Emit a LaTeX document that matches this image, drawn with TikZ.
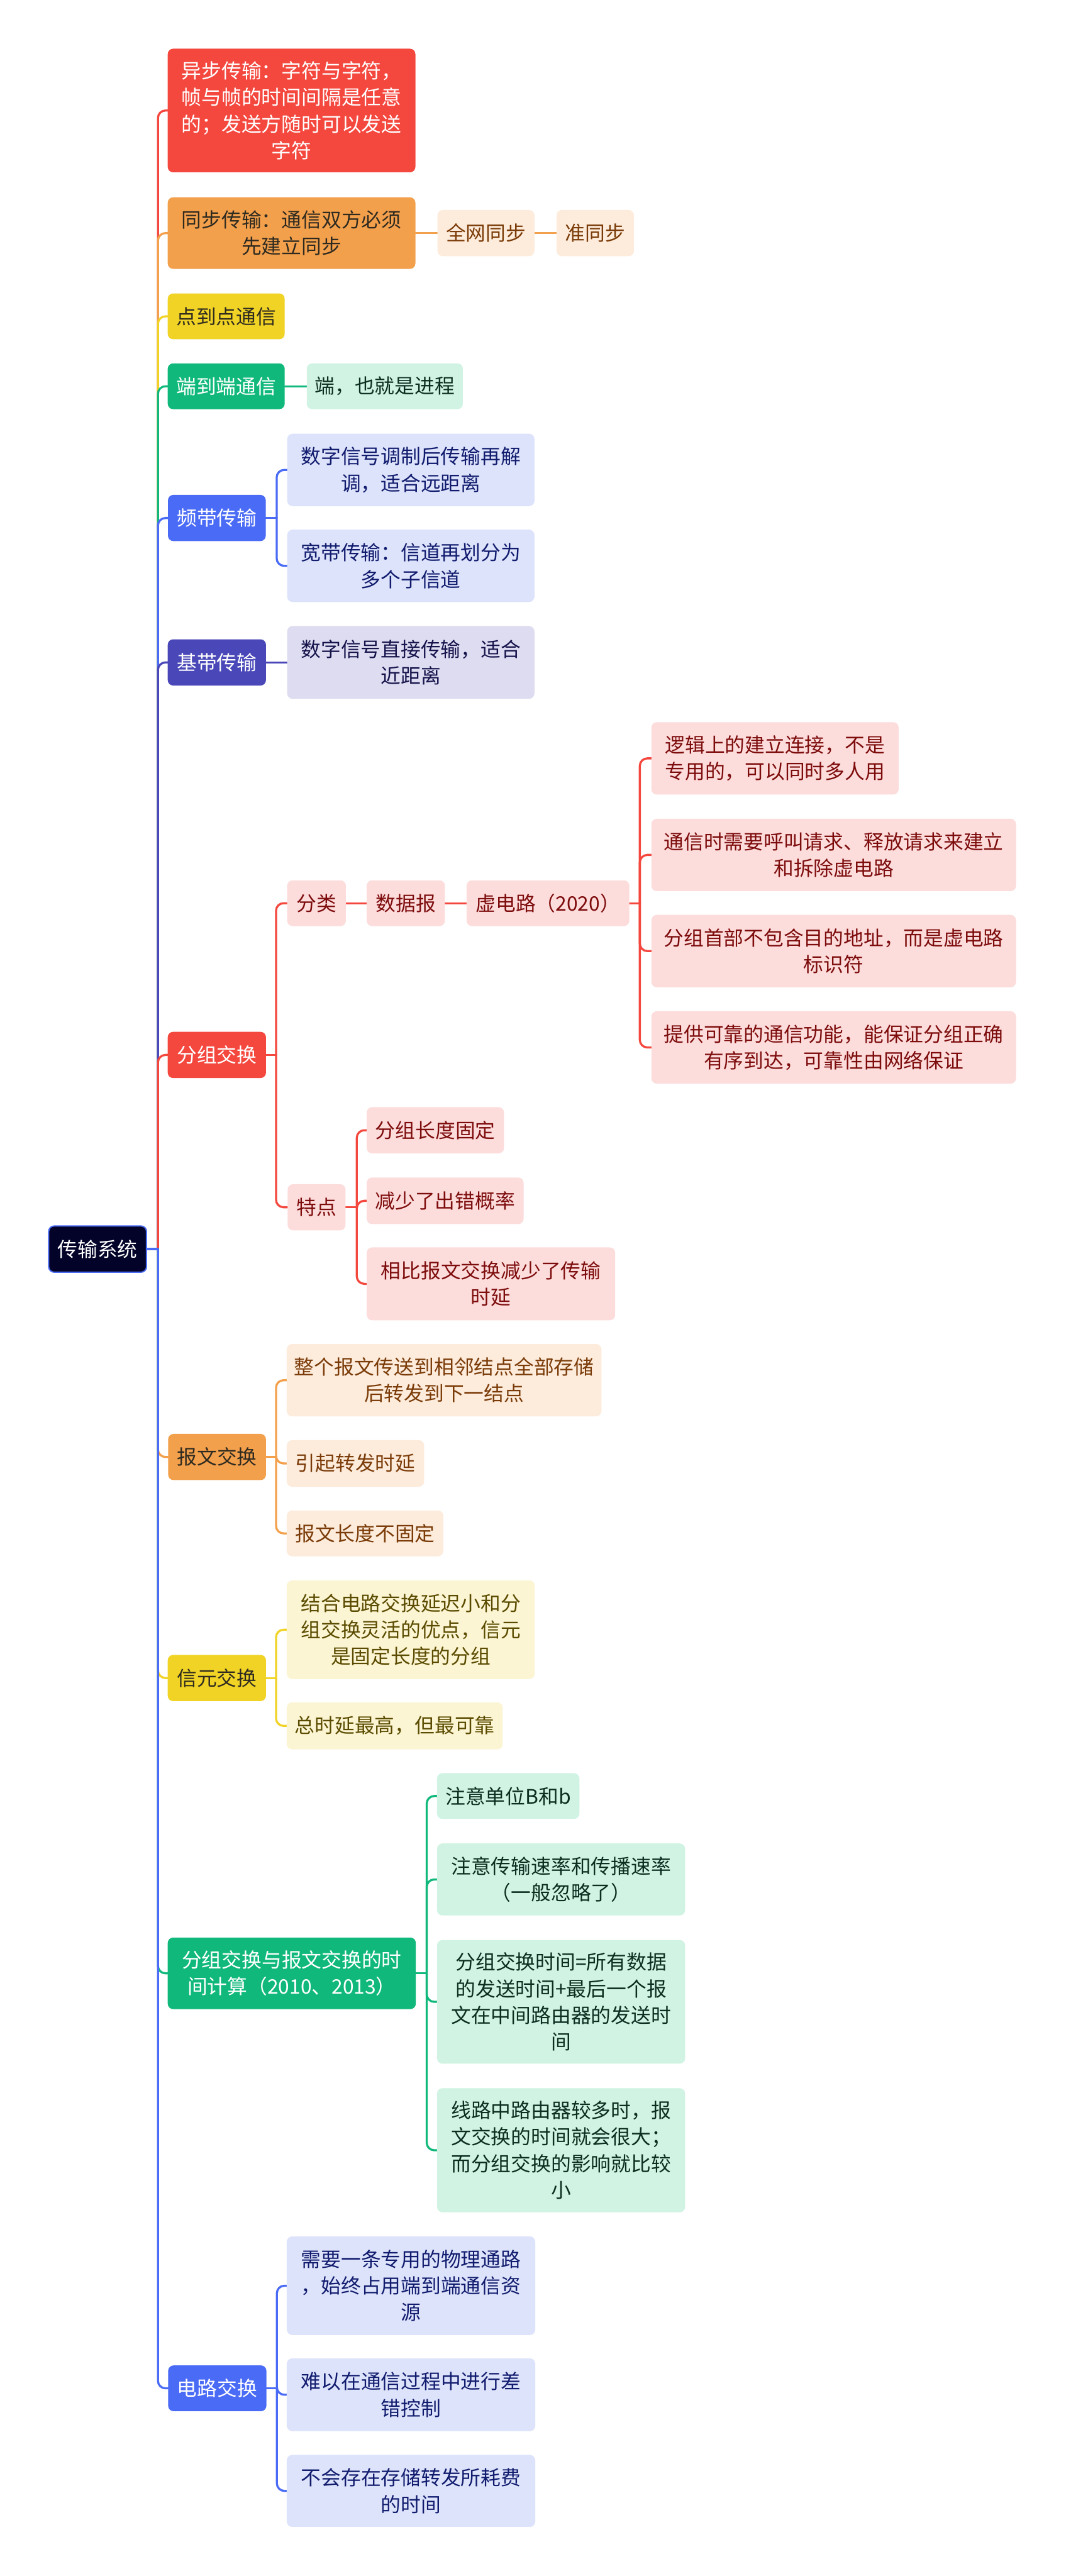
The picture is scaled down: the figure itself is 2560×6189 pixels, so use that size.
\documentclass[tikz,border=0pt]{standalone}
\usepackage{fontspec}
\setmainfont{Noto Sans CJK SC}
\usetikzlibrary{backgrounds}
\definecolor{cRed}{HTML}{F4473E}
\definecolor{cOrange}{HTML}{F3A04C}
\definecolor{cYellow}{HTML}{F0D325}
\definecolor{cGreen}{HTML}{10B97B}
\definecolor{cBlue}{HTML}{4A6BF5}
\definecolor{cPurple}{HTML}{4A48B8}
\definecolor{cRoot}{HTML}{03032A}
\definecolor{lRed}{HTML}{FDDCDC}
\definecolor{lOrange}{HTML}{FDEBDB}
\definecolor{lYellow}{HTML}{FCF5D3}
\definecolor{lGreen}{HTML}{D0F3E3}
\definecolor{lBlue}{HTML}{DDE3FB}
\definecolor{lPurple}{HTML}{DDDCF1}
\definecolor{tRed}{HTML}{7D0C0C}
\definecolor{tOrange}{HTML}{7A3B08}
\definecolor{tYellow}{HTML}{5A4B00}
\definecolor{tGreen}{HTML}{0C2E20}
\definecolor{tBlue}{HTML}{111C6E}
\definecolor{tPurple}{HTML}{15134A}
\definecolor{tDark}{HTML}{2E2A20}
\tikzset{
  nd/.style={rounded corners=13pt, inner sep=0pt, align=center, font=\fontsize{48}{64}\selectfont},
  conn/.style={line width=5pt, line cap=round},
}
\newcommand\myelbow[4]{%
  \draw[conn,#1] (#2.east) -- ++(#4,0);
  \draw[conn,#1,rounded corners=18pt] (#2.east) ++(#4,0) |- (#3.west);}
\newcommand\mystraight[3]{\draw[conn,#1] (#2.east) -- (#3.west);}
\begin{document}
\begin{tikzpicture}[x=1pt,y=-1pt]
\useasboundingbox (0,0) rectangle (2560,6189);
% root
\node[nd, fill=cRoot, draw=cBlue, line width=3pt, text=white, minimum width=235pt, minimum height=111pt] (R) at (234.5,3001) {传输系统};
% level 1
\node[nd, fill=cRed, text=white, minimum width=595pt, minimum height=297pt] (A1) at (700.5,265.5) {异步传输：字符与字符，\\帧与帧的时间间隔是任意\\的；发送方随时可以发送\\字符};
\node[nd, fill=cOrange, text=tDark, minimum width=595pt, minimum height=172pt] (A2) at (700.5,560) {同步传输：通信双方必须\\先建立同步};
\node[nd, fill=lOrange, text=tOrange, minimum width=233pt, minimum height=111pt] (A2a) at (1167.5,560) {全网同步};
\node[nd, fill=lOrange, text=tOrange, minimum width=186pt, minimum height=111pt] (A2b) at (1430,560) {准同步};
\node[nd, fill=cYellow, text=tDark, minimum width=281pt, minimum height=110pt] (A3) at (543.5,760) {点到点通信};
\node[nd, fill=cGreen, text=white, minimum width=281pt, minimum height=110pt] (A4) at (543.5,928) {端到端通信};
\node[nd, fill=lGreen, text=tGreen, minimum width=375pt, minimum height=110pt] (A4a) at (924.5,928) {端，也就是进程};
\node[nd, fill=cBlue, text=white, minimum width=235pt, minimum height=111pt] (A5) at (521,1244.5) {频带传输};
\node[nd, fill=lBlue, text=tBlue, minimum width=594pt, minimum height=174pt] (B1) at (987,1129) {数字信号调制后传输再解\\调，适合远距离};
\node[nd, fill=lBlue, text=tBlue, minimum width=594pt, minimum height=174pt] (B2) at (987,1359.5) {宽带传输：信道再划分为\\多个子信道};
\node[nd, fill=cPurple, text=white, minimum width=236pt, minimum height=111pt] (A6) at (521,1591.5) {基带传输};
\node[nd, fill=lPurple, text=tPurple, minimum width=594pt, minimum height=175pt] (C1) at (987,1591.5) {数字信号直接传输，适合\\近距离};
% packet switching
\node[nd, fill=cRed, text=white, minimum width=236pt, minimum height=111pt] (A7) at (521,2534.5) {分组交换};
\node[nd, fill=lRed, text=tRed, minimum width=141pt, minimum height=110pt] (D1) at (760.5,2170) {分类};
\node[nd, fill=lRed, text=tRed, minimum width=188pt, minimum height=110pt] (D2) at (975,2170) {数据报};
\node[nd, fill=lRed, text=tRed, minimum width=391pt, minimum height=110pt] (D3) at (1316.5,2170) {虚电路（2020）};
\node[nd, fill=lRed, text=tRed, minimum width=594pt, minimum height=174pt] (E1) at (1862,1822) {逻辑上的建立连接，不是\\专用的，可以同时多人用};
\node[nd, fill=lRed, text=tRed, minimum width=876pt, minimum height=174pt] (E2) at (2003,2054) {通信时需要呼叫请求、释放请求来建立\\和拆除虚电路};
\node[nd, fill=lRed, text=tRed, minimum width=876pt, minimum height=174pt] (E3) at (2003,2285) {分组首部不包含目的地址，而是虚电路\\标识符};
\node[nd, fill=lRed, text=tRed, minimum width=876pt, minimum height=174pt] (E4) at (2003,2516.5) {提供可靠的通信功能，能保证分组正确\\有序到达，可靠性由网络保证};
\node[nd, fill=lRed, text=tRed, minimum width=139pt, minimum height=111pt] (D4) at (760.5,2900.5) {特点};
\node[nd, fill=lRed, text=tRed, minimum width=330pt, minimum height=111pt] (F1) at (1046,2715.5) {分组长度固定};
\node[nd, fill=lRed, text=tRed, minimum width=377pt, minimum height=112pt] (F2) at (1069.5,2885) {减少了出错概率};
\node[nd, fill=lRed, text=tRed, minimum width=597pt, minimum height=175pt] (F3) at (1179.5,3084.5) {相比报文交换减少了传输\\时延};
% message switching
\node[nd, fill=cOrange, text=tDark, minimum width=235pt, minimum height=111pt] (A8) at (521.5,3500.5) {报文交换};
\node[nd, fill=lOrange, text=tOrange, minimum width=756pt, minimum height=174pt] (G1) at (1067,3316) {整个报文传送到相邻结点全部存储\\后转发到下一结点};
\node[nd, fill=lOrange, text=tOrange, minimum width=330pt, minimum height=112pt] (G2) at (854,3516) {引起转发时延};
\node[nd, fill=lOrange, text=tOrange, minimum width=376pt, minimum height=110pt] (G3) at (877,3684) {报文长度不固定};
% cell switching
\node[nd, fill=cYellow, text=tDark, minimum width=236pt, minimum height=111pt] (A9) at (521,4031.5) {信元交换};
\node[nd, fill=lYellow, text=tYellow, minimum width=596pt, minimum height=237pt] (H1) at (987,3915.5) {结合电路交换延迟小和分\\组交换灵活的优点，信元\\是固定长度的分组};
\node[nd, fill=lYellow, text=tYellow, minimum width=519pt, minimum height=113pt] (H2) at (948.5,4146.5) {总时延最高，但最可靠};
% time calculation
\node[nd, fill=cGreen, text=white, minimum width=596pt, minimum height=172pt] (A10) at (701,4741) {分组交换与报文交换的时\\间计算（2010、2013）};
\node[nd, fill=lGreen, text=tGreen, minimum width=342pt, minimum height=110pt] (I1) at (1221,4315) {注意单位B和b};
\node[nd, fill=lGreen, text=tGreen, minimum width=596pt, minimum height=173pt] (I2) at (1348,4515.5) {注意传输速率和传播速率\\（一般忽略了）};
\node[nd, fill=lGreen, text=tGreen, minimum width=596pt, minimum height=297pt] (I3) at (1348,4809.5) {分组交换时间=所有数据\\的发送时间+最后一个报\\文在中间路由器的发送时\\间};
\node[nd, fill=lGreen, text=tGreen, minimum width=596pt, minimum height=298pt] (I4) at (1348,5166) {线路中路由器较多时，报\\文交换的时间就会很大；\\而分组交换的影响就比较\\小};
% circuit switching
\node[nd, fill=cBlue, text=white, minimum width=236pt, minimum height=110pt] (A11) at (522,5738) {电路交换};
\node[nd, fill=lBlue, text=tBlue, minimum width=597pt, minimum height=237pt] (J1) at (987.5,5491.5) {需要一条专用的物理通路\\，始终占用端到端通信资\\源};
\node[nd, fill=lBlue, text=tBlue, minimum width=597pt, minimum height=175pt] (J2) at (987.5,5753.5) {难以在通信过程中进行差\\错控制};
\node[nd, fill=lBlue, text=tBlue, minimum width=597pt, minimum height=173pt] (J3) at (987.5,5984.5) {不会存在存储转发所耗费\\的时间};
\begin{scope}[on background layer]
\fill[white] (0,0) rectangle (2560,6189);
% root to level 1
\myelbow{cRed}{R}{A1}{26}
\myelbow{cOrange}{R}{A2}{26}
\myelbow{cYellow}{R}{A3}{26}
\myelbow{cGreen}{R}{A4}{26}
\myelbow{cBlue}{R}{A5}{26}
\myelbow{cPurple}{R}{A6}{26}
\myelbow{cRed}{R}{A7}{26}
\myelbow{cOrange}{R}{A8}{26}
\myelbow{cYellow}{R}{A9}{26}
\myelbow{cGreen}{R}{A10}{26}
\myelbow{cBlue}{R}{A11}{26}
% sub connectors
\mystraight{cOrange}{A2}{A2a}
\mystraight{cOrange}{A2a}{A2b}
\mystraight{cGreen}{A4}{A4a}
\myelbow{cBlue}{A5}{B1}{26}
\myelbow{cBlue}{A5}{B2}{26}
\mystraight{cPurple}{A6}{C1}
\myelbow{cRed}{A7}{D1}{24}
\myelbow{cRed}{A7}{D4}{24}
\mystraight{cRed}{D1}{D2}
\mystraight{cRed}{D2}{D3}
\myelbow{cRed}{D3}{E1}{25}
\myelbow{cRed}{D3}{E2}{25}
\myelbow{cRed}{D3}{E3}{25}
\myelbow{cRed}{D3}{E4}{25}
\myelbow{cRed}{D4}{F1}{27}
\myelbow{cRed}{D4}{F2}{27}
\myelbow{cRed}{D4}{F3}{27}
\myelbow{cOrange}{A8}{G1}{24}
\myelbow{cOrange}{A8}{G2}{24}
\myelbow{cOrange}{A8}{G3}{24}
\myelbow{cYellow}{A9}{H1}{24}
\myelbow{cYellow}{A9}{H2}{24}
\myelbow{cGreen}{A10}{I1}{26}
\myelbow{cGreen}{A10}{I2}{26}
\myelbow{cGreen}{A10}{I3}{26}
\myelbow{cGreen}{A10}{I4}{26}
\myelbow{cBlue}{A11}{J1}{25}
\myelbow{cBlue}{A11}{J2}{25}
\myelbow{cBlue}{A11}{J3}{25}
\end{scope}
\end{tikzpicture}
\end{document}
